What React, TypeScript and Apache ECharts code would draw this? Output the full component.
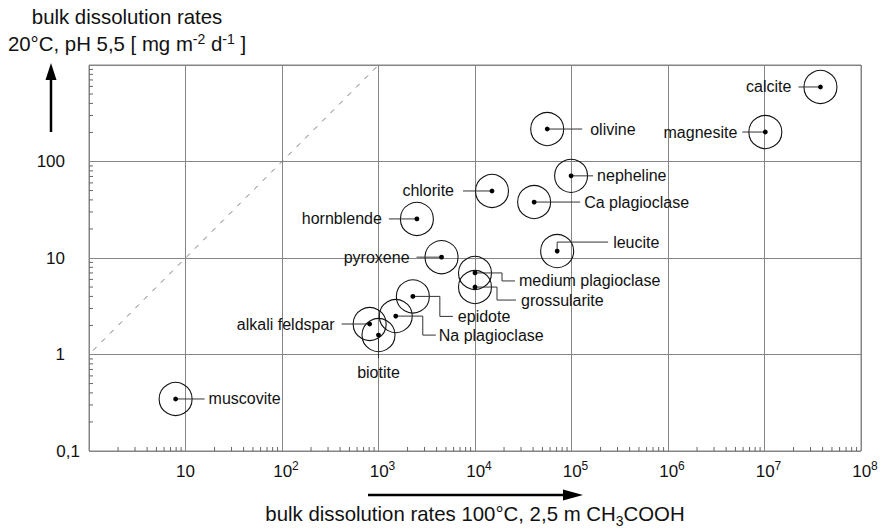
import React, { useEffect, useRef } from 'react';
import * as echarts from 'echarts';

const FONT = '"Liberation Sans", Arial, Helvetica, sans-serif';

// mineral names and their bulk dissolution rates
const minerals = [
  'calcite', 'magnesite', 'olivine', 'nepheline', 'chlorite', 'Ca plagioclase',
  'hornblende', 'leucite', 'pyroxene', 'medium plagioclase', 'grossularite',
  'epidote', 'Na plagioclase', 'alkali feldspar', 'biotite', 'muscovite',
];
// x: 100°C, 2,5 m CH3COOH
const rate100C = [3.8e7, 1.02e7, 5.6e4, 9.9e4, 1.5e4, 4.1e4, 2.5e3, 7.1e4, 4.5e3, 1.0e4, 1.0e4, 2.27e3, 1.51e3, 8.1e2, 1.0e3, 7.9];
// y: 20°C, pH 5,5 [mg m-2 d-1]
const rate20C = [592, 202, 217, 71, 49.5, 38, 25.4, 11.8, 10.2, 7.0, 5.0, 4.0, 2.5, 2.07, 1.59, 0.346];

// 1:1 reference line (x = y)
const identityLine = [1.1, 1000];

// axis ranges / ticks
const xRange = [1, 1e8];
const yRange = [0.1, 1000];
const minorMultipliers = [2, 3, 4, 5, 6, 7, 8, 9];

// label leader layout (pixel offsets from the point), same order as minerals
type Layout = { path: number[][]; at: number[]; align: 'left' | 'right' | 'center' };
const labelLayout: Layout[] = [
  { path: [[0, 0], [-22, 0]], at: [-29, 0], align: 'right' },            // calcite
  { path: [[0, 0], [-23, 0]], at: [-28, 0], align: 'right' },            // magnesite
  { path: [[0, 0], [35, 0]], at: [43, 0], align: 'left' },               // olivine
  { path: [[0, 0], [22, 0]], at: [26, 0], align: 'left' },               // nepheline
  { path: [[0, 0], [-29, 0]], at: [-38, 0], align: 'right' },            // chlorite
  { path: [[0, 0], [46, 0]], at: [50, 0], align: 'left' },               // Ca plagioclase
  { path: [[0, 0], [-28, 0]], at: [-35, 0], align: 'right' },            // hornblende
  { path: [[0, 0], [0, -9], [51, -9]], at: [56, -9], align: 'left' },    // leucite
  { path: [[0, 0], [-25, 0]], at: [-32, 0], align: 'right' },            // pyroxene
  { path: [[0, 0], [27, 0], [27, 8], [40, 8]], at: [44, 8], align: 'left' },     // medium plagioclase
  { path: [[0, 0], [22, 0], [22, 13], [41, 13]], at: [46, 13], align: 'left' },  // grossularite
  { path: [[0, 0], [27, 0], [27, 20], [40, 20]], at: [45, 20], align: 'left' },  // epidote
  { path: [[0, 0], [27, 0], [27, 19], [40, 19]], at: [43, 19], align: 'left' },  // Na plagioclase
  { path: [[0, 0], [-28, 0]], at: [-35, 0], align: 'right' },            // alkali feldspar
  { path: [[0, 0], [0, 23]], at: [0, 37], align: 'center' },             // biotite
  { path: [[0, 0], [29, 0]], at: [33, 0], align: 'left' },               // muscovite
];

function decadesMinor(lo: number, hi: number) {
  const out: number[] = [];
  for (let d = lo; d < hi; d *= 10) {
    for (const m of minorMultipliers) out.push(Math.round(d * m * 1e6) / 1e6);
  }
  return out;
}

export default function App() {
  const ref = useRef<HTMLDivElement>(null);
  useEffect(() => {
    if (!ref.current) return;
    const chart = echarts.init(ref.current, undefined, { renderer: 'svg' });
    const gridColor = '#858585';
    const xMinor = decadesMinor(xRange[0], xRange[1]).map((v) => [v, yRange[0]]);
    const yMinor = decadesMinor(yRange[0], yRange[1]).map((v) => [xRange[0], v]);
    const pointData = minerals.map((_, i) => [rate100C[i], rate20C[i]]);
    const TITLE = 20.4;

    chart.setOption({
      animation: false,
      backgroundColor: '#fff',
      textStyle: { fontFamily: FONT },
      grid: { left: 89, right: 23, top: 65, bottom: 81, show: true, borderColor: gridColor, borderWidth: 1, backgroundColor: 'transparent' },
      xAxis: {
        type: 'log', logBase: 10, min: xRange[0], max: xRange[1], splitNumber: 8,
        axisLine: { show: false }, axisTick: { show: false },
        splitLine: { show: true, lineStyle: { color: gridColor, width: 1 } },
        axisLabel: {
          margin: 9, color: '#111', fontFamily: FONT, fontSize: 17,
          formatter: (v: number) => {
            const e = Math.round(Math.log10(v));
            if (e <= 0) return '';
            if (e === 1) return '{p|10}';
            return `{b|10}{s|${e}}`;
          },
          rich: {
            p: { fontSize: 17, fontFamily: FONT, color: '#111', lineHeight: 22 },
            b: { fontSize: 17, fontFamily: FONT, color: '#111', lineHeight: 22, padding: [0, 0, 0, 8] },
            s: { fontSize: 12, fontFamily: FONT, color: '#111', lineHeight: 12, verticalAlign: 'top' },
          },
        },
      },
      yAxis: {
        type: 'log', logBase: 10, min: yRange[0], max: yRange[1], splitNumber: 4,
        axisLine: { show: false }, axisTick: { show: false },
        splitLine: { show: true, lineStyle: { color: gridColor, width: 1 } },
        axisLabel: {
          margin: 9, color: '#111', fontFamily: FONT, fontSize: 17,
          formatter: (v: number) => {
            const e = Math.round(Math.log10(v));
            if (e >= 3) return '';
            if (e === -1) return '{z|0,1}';
            return `{n|${Math.pow(10, e)}}`;
          },
          rich: {
            z: { fontSize: 17, fontFamily: FONT, color: '#111' },
            n: { fontSize: 17, fontFamily: FONT, color: '#111', padding: [0, 15, 0, 0] },
          },
        },
      },
      series: [
        {
          type: 'custom', clip: false, silent: true, z: 3,
          data: xMinor,
          renderItem: (_p: any, api: any) => {
            const c = api.coord([api.value(0), api.value(1)]);
            return { type: 'line', shape: { x1: c[0], y1: c[1], x2: c[0], y2: c[1] - 4 }, style: { stroke: '#666', lineWidth: 1 } };
          },
        },
        {
          type: 'custom', clip: false, silent: true, z: 3,
          data: yMinor,
          renderItem: (_p: any, api: any) => {
            const c = api.coord([api.value(0), api.value(1)]);
            return { type: 'line', shape: { x1: c[0], y1: c[1], x2: c[0] + 4, y2: c[1] }, style: { stroke: '#666', lineWidth: 1 } };
          },
        },
        {
          type: 'line', silent: true, symbol: 'none', z: 2,
          data: [[identityLine[0], identityLine[0]], [identityLine[1], identityLine[1]]],
          lineStyle: { color: '#777', width: 1, type: [5, 7] },
        },
        {
          type: 'custom', clip: false, silent: true, z: 5,
          data: pointData,
          renderItem: (params: any, api: any) => {
            const i = params.dataIndex;
            const c = api.coord([api.value(0), api.value(1)]);
            const L = labelLayout[i];
            const pts = L.path.map(([dx, dy]) => [c[0] + dx, c[1] + dy]);
            return {
              type: 'group',
              children: [
                { type: 'circle', shape: { cx: c[0], cy: c[1], r: 16.5 }, style: { fill: 'none', stroke: '#111', lineWidth: 1.1 } },
                { type: 'polyline', shape: { points: pts }, style: { fill: 'none', stroke: '#333', lineWidth: 1 } },
                { type: 'circle', shape: { cx: c[0], cy: c[1], r: 2.4 }, style: { fill: '#000' } },
                {
                  type: 'text', x: c[0] + L.at[0], y: c[1] + L.at[1],
                  style: { text: minerals[i], align: L.align, verticalAlign: 'middle', fontSize: 16, fontFamily: FONT, fill: '#111' },
                },
              ],
            };
          },
        },
      ],
      graphic: [
        {
          type: 'text', x: 127, y: 17,
          style: { text: 'bulk dissolution rates', align: 'center', verticalAlign: 'middle', fontSize: TITLE, fontFamily: FONT, fill: '#111' },
        },
        {
          type: 'text', x: 127, y: 44,
          style: {
            text: '{b|20°C, pH 5,5 [ mg m}{s|-2}{b| d}{s|-1}{b| ]}',
            align: 'center', verticalAlign: 'middle',
            rich: {
              b: { fontSize: TITLE, fontFamily: FONT, fill: '#111', lineHeight: 25 },
              s: { fontSize: 14, fontFamily: FONT, fill: '#111', lineHeight: 15, verticalAlign: 'top' },
            },
          },
        },
        { type: 'line', shape: { x1: 51, y1: 132, x2: 51, y2: 78 }, style: { stroke: '#000', lineWidth: 2.5 } },
        { type: 'polygon', shape: { points: [[45.5, 80], [56.5, 80], [51, 63]] }, style: { fill: '#000' } },
        { type: 'line', shape: { x1: 368, y1: 495, x2: 566, y2: 495 }, style: { stroke: '#000', lineWidth: 2.5 } },
        { type: 'polygon', shape: { points: [[563, 489.5], [563, 500.5], [583, 495]] }, style: { fill: '#000' } },
        {
          type: 'text', x: 475, y: 514,
          style: {
            text: '{b|bulk dissolution rates 100°C, 2,5 m CH}{u|3}{b|COOH}',
            align: 'center', verticalAlign: 'middle',
            rich: {
              b: { fontSize: TITLE, fontFamily: FONT, fill: '#111', lineHeight: 27 },
              u: { fontSize: 14, fontFamily: FONT, fill: '#111', lineHeight: 15, verticalAlign: 'bottom' },
            },
          },
        },
      ],
    });
    return () => chart.dispose();
  }, []);
  return <div ref={ref} style={{ position: 'fixed', left: 0, top: 0, width: 884, height: 532 }} />;
}
